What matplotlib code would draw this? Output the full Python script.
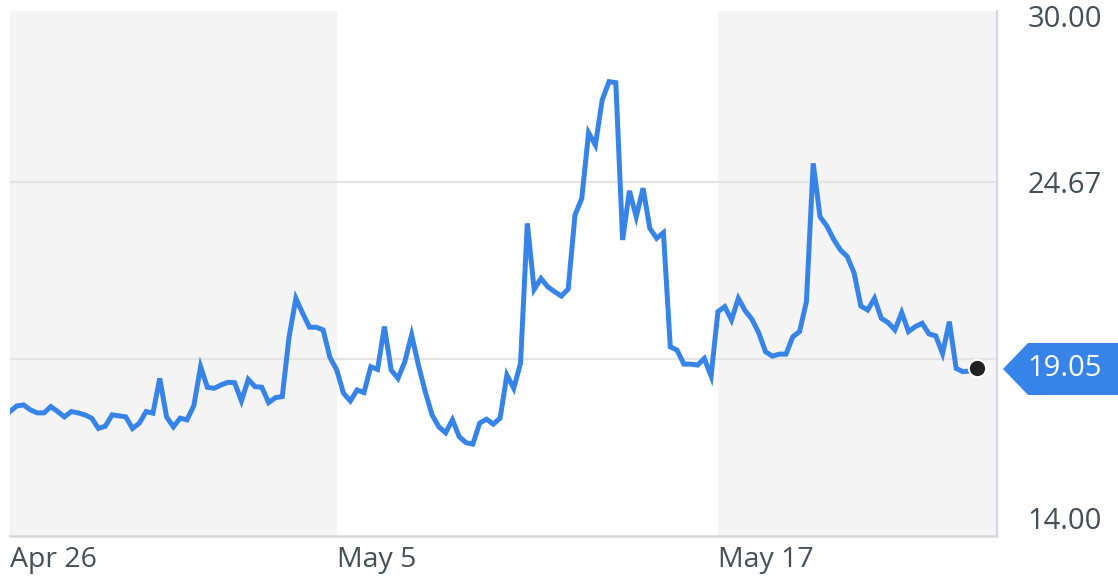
import numpy as np
import matplotlib.pyplot as plt
from matplotlib.patches import Polygon

# hourly prices, 7 points per trading day
prices = [
    17.75, 17.92, 17.95, 17.80, 17.71, 17.71, 17.90, 17.75, 17.59, 17.75,
    17.71, 17.65, 17.55, 17.24, 17.31, 17.65, 17.62, 17.59, 17.24, 17.40,
    17.75, 17.70, 18.75, 17.59, 17.29, 17.55, 17.50, 17.92, 19.10, 18.48,
    18.45, 18.55, 18.63, 18.62, 18.07, 18.72, 18.50, 18.48, 18.02, 18.17,
    18.20, 20.00, 21.16, 20.71, 20.29, 20.29, 20.21, 19.38, 19.00, 18.30,
    18.07, 18.40, 18.32, 19.10, 19.02, 20.31, 19.00, 18.75, 19.25, 20.06,
    19.15, 18.35, 17.65, 17.29, 17.11, 17.50, 16.99, 16.81, 16.77, 17.40,
    17.52, 17.37, 17.55, 18.85, 18.45, 19.20, 23.42, 21.43, 21.76, 21.51,
    21.36, 21.23, 21.44, 23.67, 24.17, 26.15, 25.78, 27.14, 27.69, 27.66,
    22.92, 24.40, 23.62, 24.48, 23.27, 22.97, 23.14, 19.70, 19.60, 19.18,
    19.18, 19.15, 19.35, 18.82, 20.76, 20.91, 20.51, 21.16, 20.79, 20.53,
    20.12, 19.55, 19.42, 19.48, 19.48, 20.00, 20.16, 21.06, 25.23, 23.62,
    23.34, 22.94, 22.62, 22.42, 21.93, 20.93, 20.81, 21.16, 20.56, 20.43,
    20.21, 20.73, 20.16, 20.31, 20.41, 20.09, 20.03, 19.50, 20.46, 19.05,
    18.95, 18.97, 19.05,
]
date_labels = ["Apr 26", "May 5", "May 17"]
date_starts = [0, 48, 104]
y_ticks = [14.00, 19.33, 24.67, 30.00]
y_labels = ["14.00", "", "24.67", "30.00"]
last_price = prices[-1]

W, H = 1118, 579
fig = plt.figure(figsize=(W / 100, H / 100), dpi=100)
plt.rcParams['font.family'] = ['Open Sans', 'DejaVu Sans']
plt.rcParams['font.weight'] = 'medium'

ax = fig.add_axes([10 / W, (H - 536) / H, 987 / W, 531 / H])
x = np.arange(len(prices))
xmax = 145

# alternating shaded bands
edges = date_starts + [xmax]
for i in range(len(date_starts)):
    if i % 2 == 0:
        ax.axvspan(edges[i], edges[i + 1], ymin=0, ymax=525 / 531,
                   color='#f4f4f4', lw=0, zorder=0)

for t in y_ticks[1:3]:
    ax.axhline(t, color='#e4e4e4', lw=1.6, zorder=1)

ax.plot(x, prices, color='#3784e8', lw=3.6, solid_joinstyle='miter', zorder=3)
ax.plot(x[-1], last_price, 'o', ms=12.5, color='#222222', mec='white', mew=1.5, zorder=4)

ax.set_xlim(0, xmax)
ax.set_ylim(14, 30)

for s in ['top', 'left']:
    ax.spines[s].set_visible(False)
ax.spines['bottom'].set_color('#d5d8dd')
ax.spines['bottom'].set_linewidth(1.8)
ax.spines['right'].set_color('#d5d8dd')
ax.spines['right'].set_linewidth(1.6)
ax.spines['right'].set_bounds(14, 30 - 6 / 33.19)

ax.set_xticks(date_starts)
ax.set_xticklabels(date_labels, ha='left', fontsize=20.5, color='#464e56')
ax.tick_params(axis='x', length=0, pad=7)

ax.yaxis.tick_right()
ax.set_yticks(y_ticks)
ax.set_yticklabels(y_labels, fontsize=21, color='#464e56')
ax.tick_params(axis='y', length=0, pad=22)
tl = ax.get_yticklabels()
tl[0].set_va('bottom')
tl[3].set_va('top')

# price callout on the right
pts = [(1003, 369), (1028, 343), (1118, 343), (1118, 395), (1028, 395)]
poly = Polygon([(px / W, (H - py) / H) for px, py in pts], closed=True,
               transform=fig.transFigure, facecolor='#3784e8', edgecolor='none')
fig.patches.append(poly)
fig.text(1065 / W, (H - 369) / H, f"{last_price:.2f}", color='white',
         fontsize=21, ha='center', va='center')

fig.savefig('out.png', dpi=100)
